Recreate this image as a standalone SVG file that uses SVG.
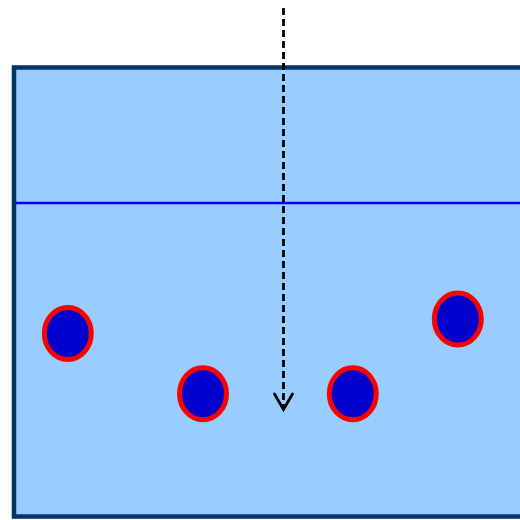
<svg xmlns="http://www.w3.org/2000/svg" width="520" height="520" viewBox="0 0 520 520">
<defs>
<style>
.tank{fill:#99ccff;stroke:#003366;stroke-width:4.5}
.level{stroke:#0000ff;stroke-width:2.5;fill:none}
.ball{fill:#0000cc;stroke:#ff0000;stroke-width:5}
.probe{stroke:#000;stroke-width:2.8;stroke-dasharray:7,4;fill:none}
.head{stroke:#000;stroke-width:2.8;fill:none;stroke-linecap:round;stroke-linejoin:miter}
</style>
</defs>
<g id="tank"><rect class="tank" x="14" y="67.5" width="520" height="449"/></g>
<g id="level"><line class="level" x1="16" y1="203" x2="520" y2="203"/></g>
<g id="ball1"><ellipse class="ball" cx="67.8" cy="333.5" rx="23.5" ry="26"/></g>
<g id="ball2"><ellipse class="ball" cx="203" cy="393.8" rx="23.5" ry="26"/></g>
<g id="ball3"><ellipse class="ball" cx="352.8" cy="393.8" rx="23.5" ry="26"/></g>
<g id="ball4"><ellipse class="ball" cx="457.8" cy="319" rx="23.5" ry="26"/></g>
<g id="connectors">
<line class="probe" x1="283.5" y1="8" x2="283.5" y2="408"/>
<polyline class="head" points="274.5,394 283.5,409.5 292.5,394"/>
</g>
</svg>
